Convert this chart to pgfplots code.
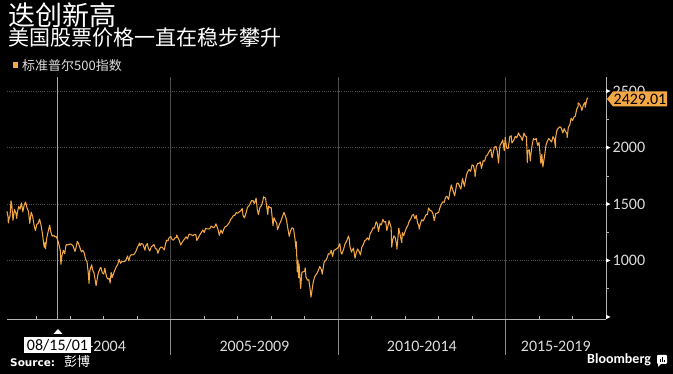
\documentclass[border=0pt]{standalone}
\usepackage{pgfplots}
\usepackage{pgfplotstable}
\pgfplotsset{compat=1.18}
\usepackage{fontspec}
\setmainfont{Carlito}
\newfontfamily\cjk{Noto Sans CJK SC}
\newfontfamily\dv{DejaVu Sans}
\definecolor{bbor}{HTML}{F3A845}
\definecolor{txt}{HTML}{DCDCDC}
\definecolor{gridc}{HTML}{505050}
\definecolor{sepc}{HTML}{4A4A4A}
\definecolor{sepb}{HTML}{8C8C8C}
\definecolor{axc}{HTML}{B4B4B4}
\definecolor{curc}{HTML}{A8A8A8}

\pgfplotstableread{
x y
2000.110 1435
2000.140 1390
2000.150 1333
2000.167 1366
2000.200 1395
2000.230 1527
2000.250 1499
2000.290 1356
2000.333 1452
2000.375 1420
2000.400 1373
2000.417 1421
2000.458 1478
2000.500 1455
2000.542 1510
2000.583 1431
2000.625 1492
2000.667 1518
2000.708 1465
2000.750 1437
2000.790 1329
2000.833 1429
2000.875 1390
2000.917 1315
2000.960 1264
2001.000 1320
2001.042 1330
2001.083 1366
2001.125 1315
2001.167 1240
2001.220 1117
2001.250 1160
2001.260 1103
2001.292 1190
2001.333 1249
2001.385 1312
2001.417 1256
2001.458 1215
2001.500 1224
2001.542 1210
2001.583 1211
2001.625 1180
2001.667 1134
2001.700 1092
2001.720 966
2001.750 1041
2001.792 1090
2001.833 1060
2001.875 1140
2001.917 1139
2001.958 1140
2002.000 1148
2002.042 1140
2002.083 1130
2002.140 1080
2002.167 1107
2002.210 1170
2002.250 1147
2002.292 1110
2002.333 1077
2002.375 1090
2002.417 1067
2002.458 1010
2002.500 990
2002.540 880
2002.560 797
2002.583 912
2002.640 962
2002.667 916
2002.708 890
2002.750 815
2002.770 777
2002.833 886
2002.900 938
2002.917 936
2002.958 890
2003.000 880
2003.030 931
2003.083 856
2003.125 835
2003.167 841
2003.190 800
2003.220 895
2003.250 848
2003.292 885
2003.333 917
2003.375 945
2003.417 964
2003.460 1011
2003.500 975
2003.542 990
2003.583 990
2003.625 990
2003.667 1008
2003.710 1040
2003.750 996
2003.792 1045
2003.833 1051
2003.875 1050
2003.917 1058
2003.958 1080
2004.000 1112
2004.070 1155
2004.083 1131
2004.125 1150
2004.167 1145
2004.230 1091
2004.250 1126
2004.300 1150
2004.333 1107
2004.375 1084
2004.417 1121
2004.458 1130
2004.500 1141
2004.542 1105
2004.583 1102
2004.615 1064
2004.667 1104
2004.708 1120
2004.750 1115
2004.810 1094
2004.833 1130
2004.875 1180
2004.917 1174
2004.958 1205
2005.000 1212
2005.042 1185
2005.083 1181
2005.125 1200
2005.167 1204
2005.180 1225
2005.250 1181
2005.300 1137
2005.333 1157
2005.375 1175
2005.417 1192
2005.458 1210
2005.500 1191
2005.542 1230
2005.583 1234
2005.625 1225
2005.667 1220
2005.708 1230
2005.750 1229
2005.780 1177
2005.833 1207
2005.875 1230
2005.917 1249
2005.958 1270
2006.000 1248
2006.042 1285
2006.083 1280
2006.125 1280
2006.167 1281
2006.208 1305
2006.250 1295
2006.292 1290
2006.333 1311
2006.350 1325
2006.417 1270
2006.450 1223
2006.500 1270
2006.542 1240
2006.583 1277
2006.625 1300
2006.667 1304
2006.708 1320
2006.750 1336
2006.792 1365
2006.833 1378
2006.875 1400
2006.917 1401
2006.958 1425
2007.000 1418
2007.042 1430
2007.083 1438
2007.135 1460
2007.160 1399
2007.200 1377
2007.250 1421
2007.292 1470
2007.333 1482
2007.375 1505
2007.417 1531
2007.458 1530
2007.500 1503
2007.550 1553
2007.583 1455
2007.620 1406
2007.667 1474
2007.708 1485
2007.750 1527
2007.775 1565
2007.833 1549
2007.900 1407
2007.917 1481
2007.958 1470
2008.000 1468
2008.055 1310
2008.083 1379
2008.125 1350
2008.167 1331
2008.190 1273
2008.250 1323
2008.292 1350
2008.333 1386
2008.380 1426
2008.417 1400
2008.458 1360
2008.500 1280
2008.540 1214
2008.583 1267
2008.625 1290
2008.667 1283
2008.710 1193
2008.740 1106
2008.750 1166
2008.780 899
2008.800 1003
2008.820 848
2008.833 969
2008.880 752
2008.917 896
2008.958 900
2009.000 903
2009.015 935
2009.042 850
2009.083 826
2009.125 830
2009.167 735
2009.190 676
2009.250 798
2009.292 850
2009.333 873
2009.375 890
2009.417 919
2009.450 946
2009.500 919
2009.525 879
2009.583 987
2009.625 1000
2009.667 1021
2009.708 1060
2009.750 1057
2009.792 1090
2009.833 1036
2009.875 1090
2009.917 1096
2009.958 1105
2010.000 1115
2010.050 1150
2010.083 1074
2010.110 1056
2010.167 1104
2010.208 1150
2010.250 1169
2010.310 1217
2010.333 1187
2010.350 1128
2010.400 1074
2010.417 1089
2010.458 1110
2010.500 1031
2010.505 1022
2010.542 1070
2010.583 1102
2010.625 1080
2010.667 1049
2010.708 1120
2010.750 1141
2010.792 1175
2010.833 1183
2010.875 1200
2010.917 1181
2010.958 1240
2011.000 1258
2011.042 1290
2011.083 1286
2011.135 1343
2011.167 1327
2011.205 1257
2011.250 1326
2011.292 1315
2011.333 1364
2011.375 1340
2011.417 1345
2011.455 1266
2011.500 1321
2011.520 1353
2011.583 1292
2011.600 1119
2011.625 1180
2011.667 1219
2011.708 1200
2011.750 1131
2011.755 1099
2011.810 1285
2011.833 1253
2011.900 1159
2011.917 1247
2011.958 1220
2012.000 1258
2012.042 1290
2012.083 1312
2012.125 1350
2012.167 1366
2012.208 1400
2012.250 1408
2012.292 1370
2012.333 1398
2012.375 1330
2012.410 1310
2012.420 1278
2012.458 1330
2012.500 1362
2012.542 1350
2012.583 1379
2012.625 1405
2012.667 1407
2012.700 1465
2012.750 1441
2012.792 1440
2012.833 1412
2012.870 1353
2012.917 1416
2012.958 1420
2013.000 1426
2013.042 1470
2013.083 1498
2013.125 1520
2013.167 1515
2013.208 1560
2013.250 1569
2013.300 1541
2013.333 1598
2013.380 1669
2013.417 1631
2013.480 1573
2013.500 1606
2013.542 1680
2013.583 1686
2013.625 1660
2013.667 1633
2013.715 1725
2013.750 1682
2013.770 1656
2013.833 1757
2013.875 1790
2013.917 1806
2013.958 1790
2014.000 1848
2014.042 1840
2014.083 1783
2014.090 1741
2014.125 1830
2014.167 1859
2014.208 1860
2014.250 1872
2014.280 1815
2014.333 1884
2014.375 1880
2014.417 1924
2014.458 1935
2014.500 1960
2014.560 1988
2014.583 1931
2014.600 1910
2014.667 2003
2014.715 2011
2014.750 1972
2014.790 1862
2014.833 2018
2014.875 2040
2014.917 2068
2014.960 1973
2014.990 2091
2015.000 2059
2015.040 1993
2015.083 1995
2015.125 2095
2015.167 2105
2015.190 2040
2015.250 2068
2015.292 2100
2015.333 2086
2015.390 2131
2015.417 2107
2015.458 2095
2015.500 2063
2015.550 2128
2015.583 2104
2015.625 2095
2015.650 1868
2015.667 1972
2015.708 1980
2015.740 1882
2015.750 1920
2015.792 2020
2015.833 2079
2015.875 2070
2015.917 2080
2015.958 2020
2016.000 2044
2016.055 1859
2016.083 1940
2016.115 1829
2016.167 1932
2016.208 2020
2016.250 2060
2016.292 2080
2016.333 2065
2016.375 2050
2016.417 2097
2016.458 2075
2016.490 2000
2016.500 2099
2016.542 2160
2016.583 2174
2016.625 2185
2016.667 2171
2016.708 2130
2016.750 2168
2016.792 2140
2016.833 2126
2016.840 2088
2016.875 2180
2016.917 2199
2016.958 2260
2017.000 2239
2017.042 2270
2017.083 2279
2017.125 2340
2017.167 2364
2017.170 2396
2017.208 2385
2017.250 2363
2017.280 2329
2017.333 2384
2017.375 2400
2017.380 2357
2017.417 2412
2017.440 2439
2017.450 2429
}\spx

\begin{document}
\begin{tikzpicture}
\fill[black] (0pt,0pt) rectangle (673pt,374pt);
% titles
\node[anchor=base west, inner sep=0, text=white, font=\cjk\fontsize{27}{27}\selectfont] at (8.5pt,348.6pt) {迭创新高};
\node[anchor=base west, inner sep=0, text=white, font=\cjk\fontsize{21}{21}\selectfont] at (8.5pt,328pt) {美国股票价格一直在稳步攀升};
\fill[bbor] (12.7pt,306.3pt) rectangle (18.3pt,312pt);
\node[anchor=base west, inner sep=0, text=txt, font=\cjk\fontsize{13}{13}\selectfont] at (22pt,303.5pt) {标准普尔500指数};

\begin{axis}[
  at={(7pt,55pt)}, anchor=south west, scale only axis,
  width=599pt, height=242pt,
  xmin=2000.11, xmax=2018, ymin=482, ymax=2625,
  hide axis, clip=false,
]
% grid
\pgfplotsinvokeforeach{1000,1500,2000,2500}{
  \draw[gridc, line width=0.6pt, dash pattern=on 1pt off 1.2pt] (axis cs:2000.11,#1) -- (axis cs:2018,#1);
}
% separators
\pgfplotsinvokeforeach{2005,2010,2015}{
  \draw[sepc, line width=0.8pt] (axis cs:#1,2625) -- (axis cs:#1,482);
  \draw[sepb, line width=0.8pt] (axis cs:#1,482) -- ([yshift=-36pt]axis cs:#1,482);
}
% cursor
\draw[curc, line width=0.9pt] (axis cs:2001.62,2625) -- (axis cs:2001.62,482);
% axis lines
\draw[axc, line width=0.8pt] (axis cs:2000.11,482) -- (axis cs:2018,482);
\draw[axc, line width=0.8pt] (axis cs:2018,482) -- (axis cs:2018,2625);
% year ticks
\pgfplotsinvokeforeach{2001,2002,2003,2004,2006,2007,2008,2009,2011,2012,2013,2014,2016,2017}{
  \draw[axc, line width=0.6pt] (axis cs:#1,482) -- ++(0pt,3pt);
}
% minor y ticks
\pgfplotsinvokeforeach{750,1250,1750,2250}{
  \draw[axc, line width=0.6pt] (axis cs:2018,#1) -- ++(2.5pt,0pt);
}
% major y markers
\pgfplotsinvokeforeach{500,1000,1500,2000,2500}{
  \fill[white] ([yshift=2.2pt]axis cs:2018,#1) -- ++(4.5pt,-2.2pt) -- ++(-4.5pt,-2.2pt) -- cycle;
}
\pgfplotsinvokeforeach{1000,1500,2000,2500}{
  \node[anchor=west, inner sep=0, text=txt, font=\fontsize{16}{16}\selectfont] at ([xshift=6.5pt]axis cs:2018,#1) {#1};
}
% x labels
\node[anchor=base, inner sep=0, text=txt, font=\fontsize{16}{16}\selectfont] at ([yshift=-33pt]axis cs:2002.62,482) {2000-2004};
\node[anchor=base, inner sep=0, text=txt, font=\fontsize{16}{16}\selectfont] at ([yshift=-33pt]axis cs:2007.5,482) {2005-2009};
\node[anchor=base, inner sep=0, text=txt, font=\fontsize{16}{16}\selectfont] at ([yshift=-33pt]axis cs:2012.5,482) {2010-2014};
\node[anchor=base, inner sep=0, text=txt, font=\fontsize{16}{16}\selectfont] at ([yshift=-33pt]axis cs:2016.5,482) {2015-2019};
% data
\addplot[bbor, line width=1.05pt, line join=round] table[x=x, y=y] {\spx};
\end{axis}

% cursor label
\fill[white] (53.5pt,40pt) -- (58pt,45pt) -- (62.5pt,40pt) -- cycle;
\fill[white] (24pt,21pt) rectangle (91pt,37pt);
\node[anchor=base, inner sep=0, text=black, font=\fontsize{16}{16}\selectfont] at (57.5pt,23pt) {08/15/01};

% last value label
\fill[bbor] (607pt,275pt) -- (613pt,282.5pt) -- (667pt,282.5pt) -- (667pt,267.5pt) -- (613pt,267.5pt) -- cycle;
\node[anchor=center, inner sep=0, text=black, font=\fontsize{16}{16}\selectfont] at (640pt,275pt) {2429.01};

% source
\node[anchor=base west, inner sep=0, text=white, font=\dv\bfseries\fontsize{10.5}{10.5}\selectfont] at (10pt,7.5pt) {Source:};
\node[anchor=base west, inner sep=0, text=white, font=\cjk\fontsize{13}{13}\selectfont] at (64pt,7.5pt) {彭博};
% Bloomberg
\node[anchor=base west, inner sep=0, text=white, font=\bfseries\fontsize{14}{14}\selectfont] at (587pt,10pt) {Bloomberg};
\fill[white, rounded corners=1pt] (657pt,10pt) rectangle (667pt,19pt);
\fill[black] (659.5pt,12pt) rectangle (660.5pt,15pt);
\fill[black] (661.5pt,12pt) rectangle (662.5pt,17pt);
\fill[black] (663.5pt,12pt) rectangle (664.5pt,14pt);
\fill[white] (658pt,10pt) -- (658pt,7pt) -- (661pt,10pt) -- cycle;
\end{tikzpicture}
\end{document}
